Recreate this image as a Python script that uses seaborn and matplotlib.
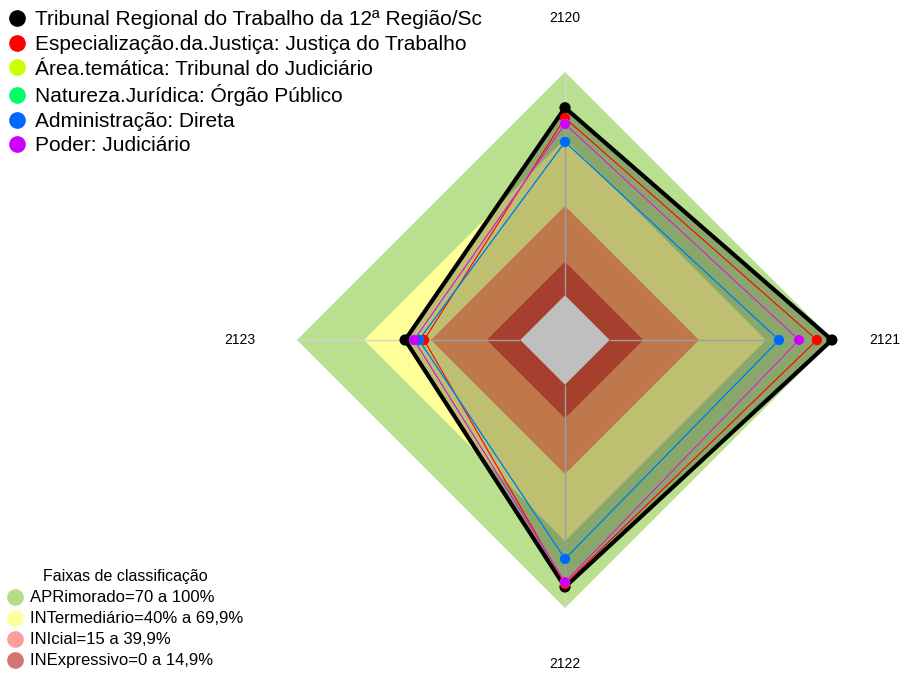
import numpy as np
import matplotlib
matplotlib.use("Agg")
import matplotlib.pyplot as plt
import seaborn as sns
from matplotlib.lines import Line2D

# eixos do radar
eixos = ["2120", "2121", "2122", "2123"]

# series (valores em %)
tribunal = [84, 99.5, 90.6, 51.6]
especializacao = [79.4, 92.8, 89.3, 43.1]
area_tematica = [76.7, 84.8, 88.4, 47.6]
natureza = [68.7, 75.8, 78, 45.4]
administracao = [68.7, 75.8, 78, 45.4]
poder = [76.7, 84.8, 88.4, 47.6]

nomes = ["Tribunal Regional do Trabalho da 12ª Região/Sc",
         "Especialização.da.Justiça: Justiça do Trabalho",
         "Área.temática: Tribunal do Judiciário",
         "Natureza.Jurídica: Órgão Público",
         "Administração: Direta",
         "Poder: Judiciário"]
series = [tribunal, especializacao, area_tematica, natureza, administracao, poder]
cores = ["#000000", "#FF0000", "#CCFF00", "#00FF66", "#0066FF", "#CC00FF"]

# faixas de classificacao
faixas_lim = [100, 70, 40, 15]
faixas_cor = ["#b9e08f", "#ffff99", "#ffa066", "#e05540"]
faixas_nome = ["APRimorado=70 a 100%", "INTermediário=40% a 69,9%",
               "INIcial=15 a 39,9%", "INExpressivo=0 a 14,9%"]
faixas_leg = ["#b3dd88", "#ffffa0", "#ff9c9c", "#d67474"]

sns.set_style("white")
plt.rcParams['font.family'] = ['Liberation Sans', 'DejaVu Sans']
plt.rcParams['text.color'] = 'black'

fig = plt.figure(figsize=(9.05, 6.75), dpi=100)
ax = fig.add_axes([297/905, 67/675, 536/905, 536/675], projection="polar")
ax.set_theta_zero_location("N")
ax.set_theta_direction(-1)
ax.set_rorigin(-20)
ax.set_ylim(0, 100)
ax.set_frame_on(False)

theta = np.deg2rad([0, 90, 180, 270])
theta_c = np.append(theta, theta[0])

for lim, cor in zip(faixas_lim, faixas_cor):
    ax.fill(theta_c, [lim]*5, color=cor, lw=0, zorder=1, clip_on=False)
ax.fill(theta_c, [0]*5, color="white", lw=0, zorder=1, clip_on=False)

for t in theta:
    ax.plot([t, t], [0, 100], color="#d4d4d4", lw=1, zorder=2)

# sombreamento do poligono principal
ax.fill(theta_c, tribunal + [tribunal[0]], color="black", alpha=0.25, lw=0,
        zorder=3, clip_on=False)

for i, (vals, cor) in enumerate(zip(series, cores)):
    v = vals + [vals[0]]
    sns.lineplot(x=theta_c, y=v, sort=False, estimator=None, ax=ax, color=cor,
                 lw=3 if i == 0 else 0.8, zorder=4 + i)
for i, (vals, cor) in enumerate(zip(series, cores)):
    sns.scatterplot(x=theta, y=vals, ax=ax, color=cor, s=65 if i == 0 else 55,
                    edgecolor="none", zorder=11 + i, clip_on=False)

ax.set_xlabel("")
ax.set_ylabel("")
ax.set_xticks([])
ax.set_yticks([])
ax.grid(False)
for sp in ax.spines.values():
    sp.set_visible(False)
ax.patch.set_visible(False)

for t, lab, r in zip(theta, eixos, [124, 123, 125, 125.5]):
    ax.text(t, r, lab, ha="center", va="center", fontsize=10, color="black",
            clip_on=False)

h1 = [Line2D([], [], marker="o", ls="", color=c, markersize=11) for c in cores]
fig.legend(h1, nomes, loc="upper left", bbox_to_anchor=(0.0, 1.0 - 2/675),
           frameon=False, fontsize=15, handletextpad=0.5, labelspacing=0.27,
           handlelength=0.8, borderaxespad=0.0, labelcolor="black")

h2 = [Line2D([], [], marker="o", ls="", color=c, markersize=11) for c in faixas_leg]
leg2 = fig.legend(h2, faixas_nome, title="Faixas de classificação", loc="lower left",
                  bbox_to_anchor=(0.0, 0.0), frameon=False, fontsize=12,
                  title_fontsize=11.5, handletextpad=0.4, labelspacing=0.36,
                  handlelength=1.0, borderaxespad=0.0, labelcolor="black")
leg2.get_title().set_color("black")

fig.savefig("out.png", dpi=100)
